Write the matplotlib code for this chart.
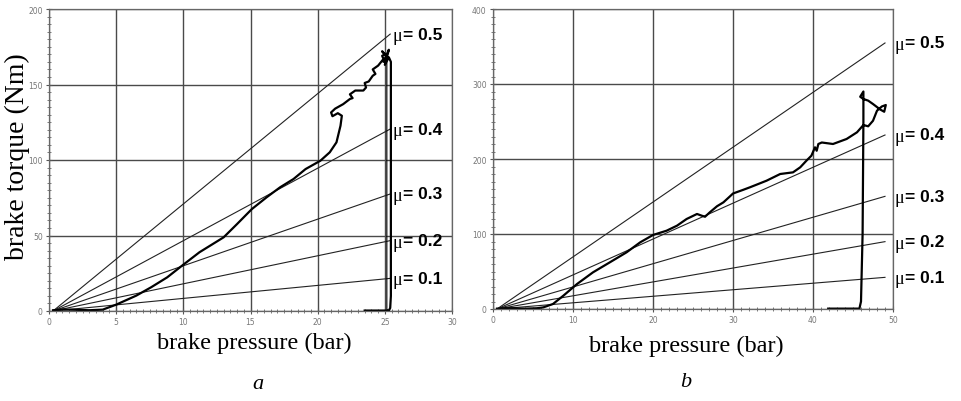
import matplotlib.pyplot as plt
from matplotlib.ticker import MultipleLocator

# friction coefficients and end torque of each reference line
mu = [0.1, 0.2, 0.3, 0.4, 0.5]
mu_x_a = [0.3, 25.4]
mu_end_a = [21.6, 46.6, 77.5, 120.5, 183.4]
mu_x_b = [0.5, 49.0]
mu_end_b = [42.2, 89.8, 150.2, 232.0, 354.7]

# measured curve, panel a
pa_x = [0.3, 1.0, 2.0, 3.0, 4.0, 5.0, 6.5, 7.6, 8.8, 9.9, 11.2, 13.0, 14.0, 15.1, 16.2,
        17.2, 18.2, 19.1, 20.2, 20.9, 21.4, 21.7, 21.8, 21.5, 21.1, 21.0, 21.3, 21.9,
        22.4, 22.6, 22.4, 22.8, 23.4, 23.6, 23.5, 23.8, 24.1, 24.3, 24.1, 24.5, 24.9,
        24.8, 25.0, 24.8, 25.2, 24.9, 25.3, 25.0, 25.3, 25.45, 25.45, 25.4, 25.3, 23.5]
pa_y = [0.5, 1.0, 0.8, 0.5, 0.9, 4.2, 10.2, 15.7, 22.3, 30.0, 38.9, 48.8, 57.6, 67.5, 75.3,
        81.9, 87.4, 94.0, 99.5, 105.1, 111.7, 122.7, 129.3, 131.0, 129.0, 131.5, 134.0, 137.0,
        140.4, 141.0, 143.5, 146.0, 146.0, 148.0, 151.0, 152.0, 155.8, 157.0, 160.0, 162.5, 166.9,
        169.0, 170.0, 172.0, 168.0, 165.0, 173.0, 163.0, 168.0, 165.0, 10.0, 2.0, 0.3, 0.3]
pa_drop_x = [25.15, 25.15, 25.3]
pa_drop_y = [166.0, 1.0, 0.3]

# measured curve, panel b
pb_x = [0.5, 2.0, 4.0, 5.5, 6.3, 7.5, 8.8, 10.5, 12.5, 14.6, 16.7, 18.4, 20.0, 21.7, 23.0,
        24.2, 25.5, 26.1, 26.5, 27.1, 28.0, 28.8, 29.6, 30.0, 31.3, 32.1, 33.0, 34.2, 35.9,
        37.5, 38.4, 39.2, 39.8, 40.25, 40.46, 40.67, 41.1, 42.5, 44.2, 45.5, 46.3, 46.9,
        47.5, 48.0, 48.6, 49.1, 48.9, 48.4, 47.5, 46.9, 46.3, 45.9, 46.3, 46.3, 46.3, 46.2,
        46.0, 45.8, 41.9]
pb_y = [0.5, 1.0, 0.5, 1.0, 2.2, 6.7, 17.8, 33.3, 48.9, 62.2, 75.6, 88.9, 98.7, 104.4, 111.1,
        120.0, 126.7, 124.4, 123.0, 128.9, 137.0, 142.2, 150.0, 154.0, 159.0, 162.2, 166.0, 171.1, 180.0,
        182.2, 188.9, 198.0, 204.4, 215.6, 211.0, 220.0, 222.0, 220.0, 226.7, 235.6, 245.3, 243.6,
        251.0, 264.4, 270.0, 272.0, 263.0, 266.0, 273.3, 277.8, 280.0, 283.0, 290.0, 280.0, 250.0, 100.0,
        10.0, 0.5, 0.5]

fig = plt.figure(figsize=(9.61, 4.02), dpi=100)
ax_a = fig.add_axes([49 / 961, 90 / 402, 403 / 961, 302 / 402])
ax_b = fig.add_axes([493 / 961, 92 / 402, 400 / 961, 300 / 402])


def style(ax, xmax, xstep, xminor, ymax, ystep, yminor):
    ax.set_xlim(0, xmax)
    ax.set_ylim(0, ymax)
    ax.xaxis.set_major_locator(MultipleLocator(xstep))
    ax.xaxis.set_minor_locator(MultipleLocator(xminor))
    ax.yaxis.set_major_locator(MultipleLocator(ystep))
    ax.yaxis.set_minor_locator(MultipleLocator(yminor))
    ax.grid(True, which='major', color='#4a4a4a', lw=1.0)
    ax.tick_params(which='major', direction='inout', length=5, width=0.8, color='#555555',
                   labelsize=5.5, labelcolor='#777777', pad=2)
    ax.tick_params(which='minor', direction='inout', length=3, width=0.6, color='#666666')
    for s in ax.spines.values():
        s.set_color('#666666')
        s.set_linewidth(0.9)


style(ax_a, 30, 5, 0.5, 200, 50, 5)
style(ax_b, 50, 10, 1, 400, 100, 10)

for m, ea, eb in zip(mu, mu_end_a, mu_end_b):
    ax_a.plot(mu_x_a, [0, ea], color='#222222', lw=0.8)
    ax_b.plot(mu_x_b, [0, eb], color='#222222', lw=0.8)
    for ax, xe, ye, dx in [(ax_a, mu_x_a[1], ea, 2), (ax_b, mu_x_b[1], eb, 7)]:
        ax.annotate('μ', (xe, ye), xytext=(dx, -1), textcoords='offset points',
                    fontsize=13, family='Liberation Serif', va='center', annotation_clip=False)
        ax.annotate('= %.1f' % m, (xe, ye), xytext=(dx + 7.5, 0), textcoords='offset points',
                    fontsize=12.5, family='Liberation Sans', weight='bold', va='center',
                    annotation_clip=False)

ax_a.plot(pa_x, pa_y, color='black', lw=1.6)
ax_a.plot(pa_drop_x, pa_drop_y, color='black', lw=0.8)
ax_b.plot(pb_x, pb_y, color='black', lw=1.6)

serif = 'Liberation Serif'
fig.text(254 / 961, 1 - 343 / 402, 'brake pressure (bar)', family=serif, fontsize=17.5,
         ha='center', va='center')
fig.text(686 / 961, 1 - 346 / 402, 'brake pressure (bar)', family=serif, fontsize=17.5,
         ha='center', va='center')
fig.text(17 / 961, 1 - 157 / 402, 'brake torque (Nm)', family=serif, fontsize=20,
         rotation=90, ha='center', va='center')
fig.text(258 / 961, 1 - 385 / 402, 'a', family=serif, style='italic', fontsize=16,
         ha='center', va='center')
fig.text(686 / 961, 1 - 383 / 402, 'b', family=serif, style='italic', fontsize=16,
         ha='center', va='center')

fig.savefig('out.png', dpi=100)
